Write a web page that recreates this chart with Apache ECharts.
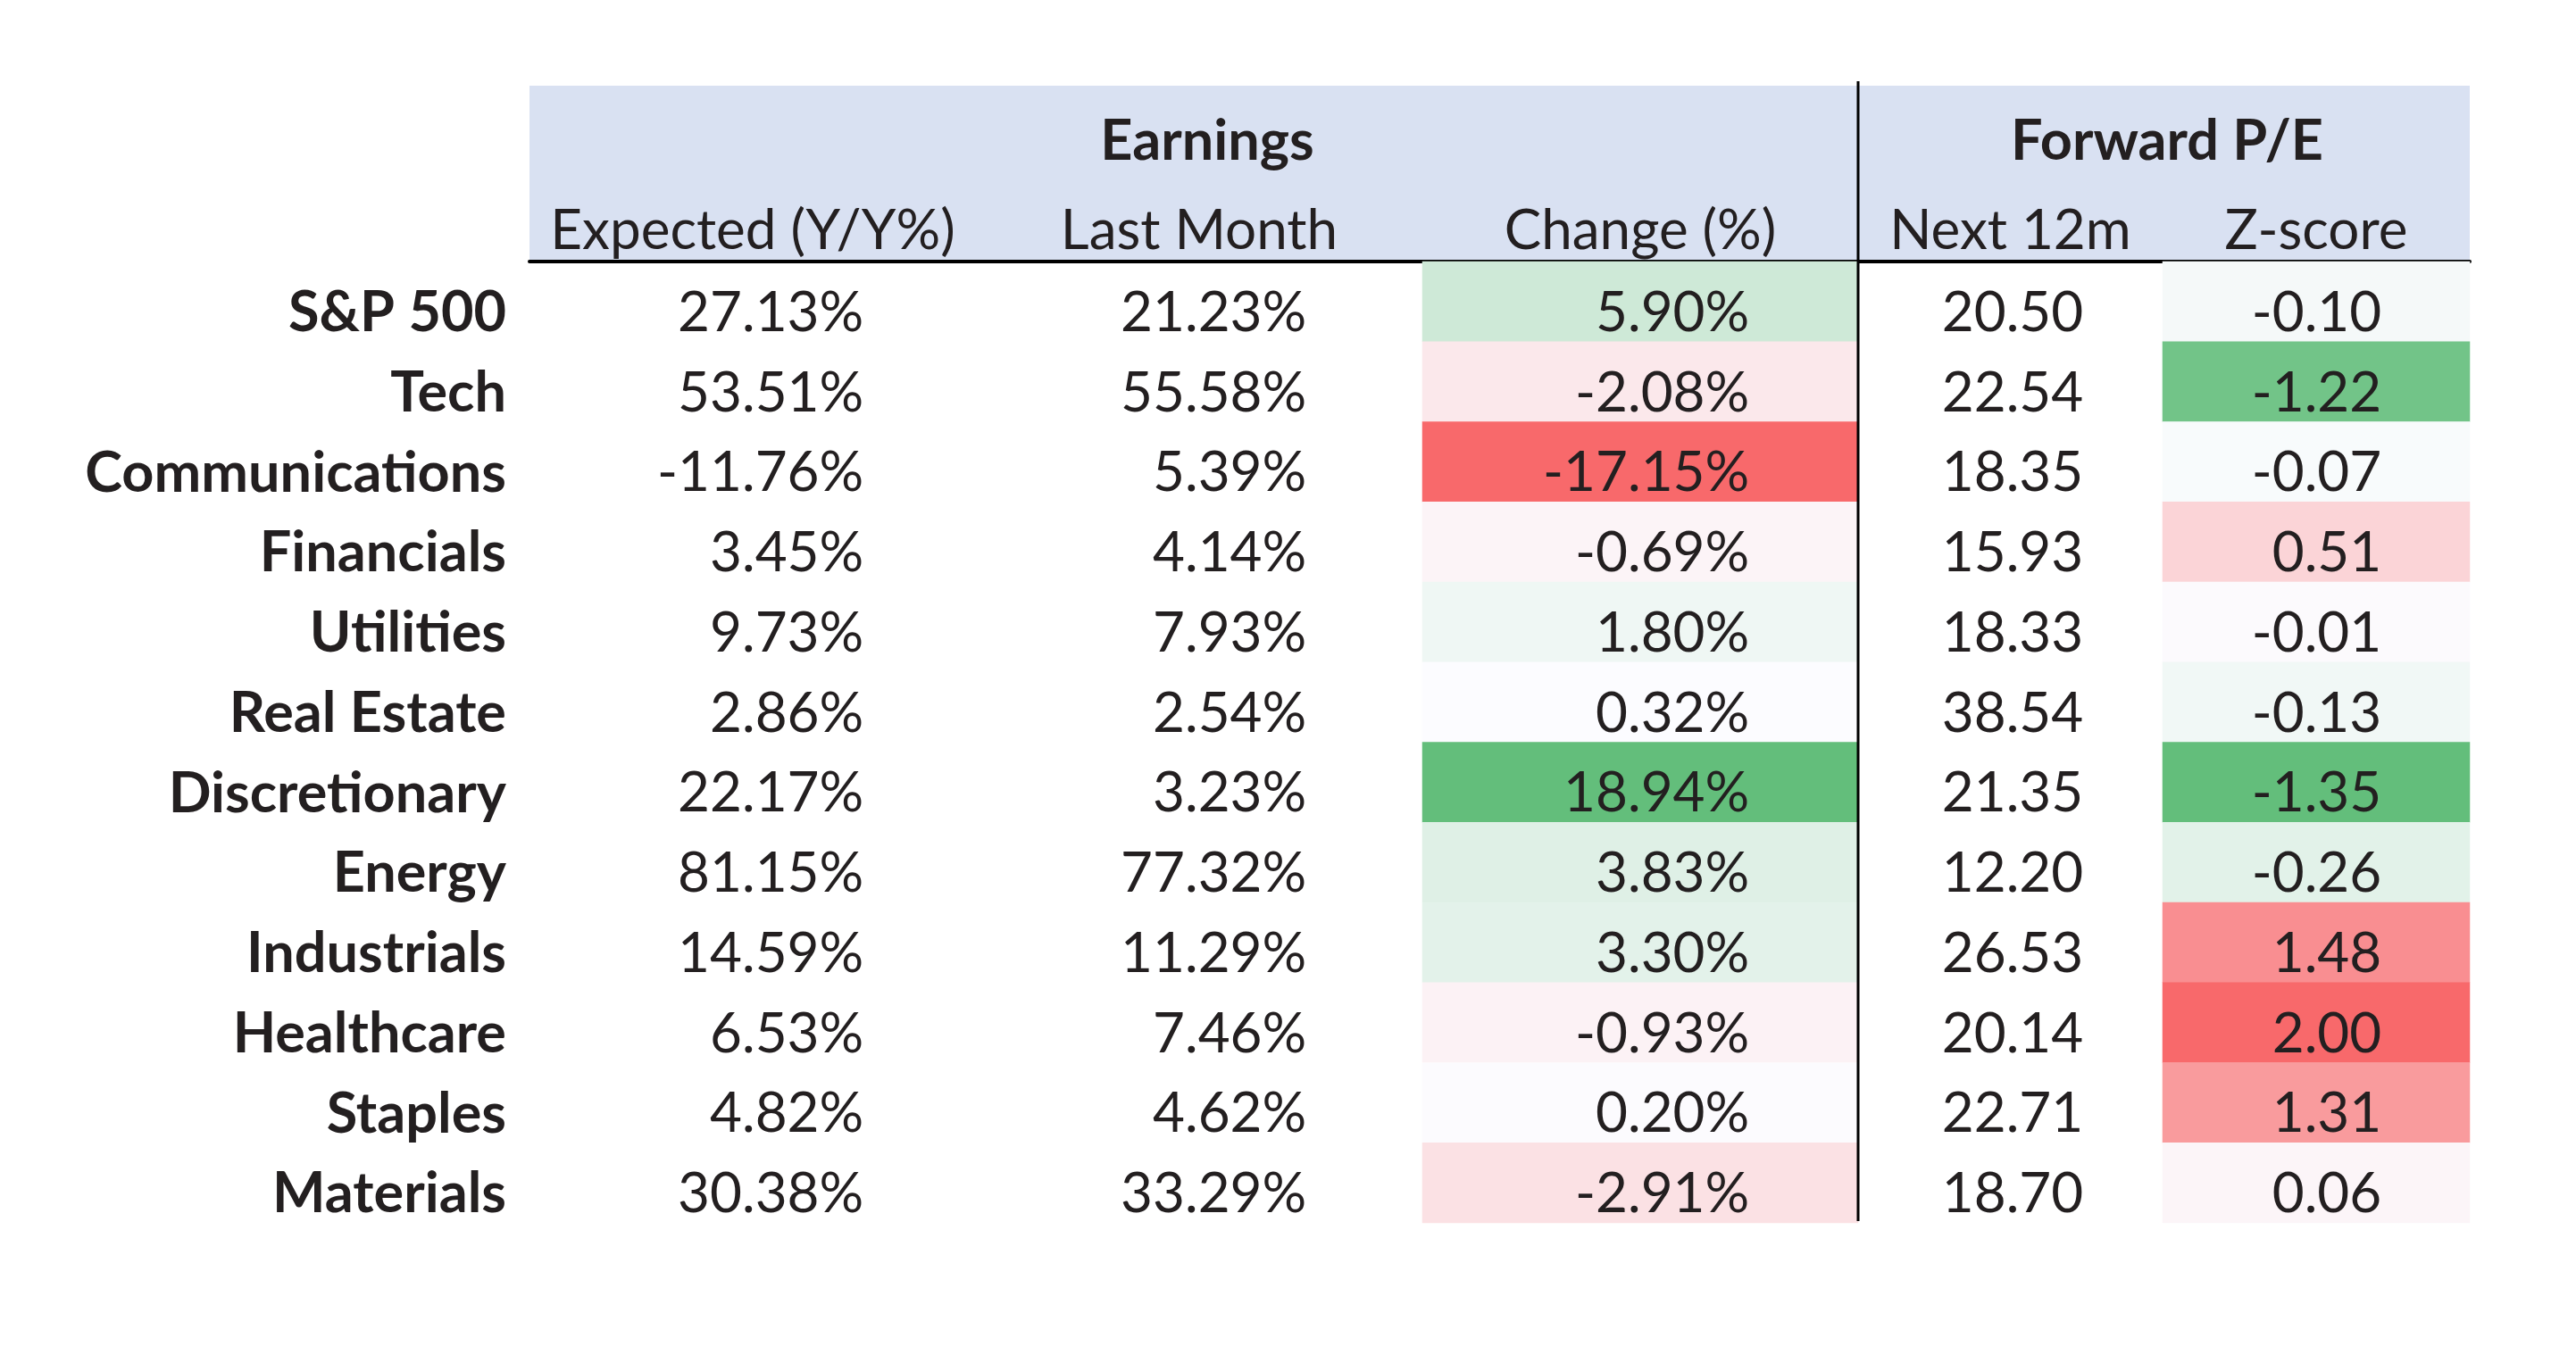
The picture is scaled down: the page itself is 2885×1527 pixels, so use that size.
<!DOCTYPE html>
<html>
<head>
<meta charset="utf-8">
<title>Earnings and Forward P/E by sector</title>
<script src="https://cdn.jsdelivr.net/npm/echarts@6/dist/echarts.min.js"></script>
<style>
	html, body { margin: 0; padding: 0; background: #ffffff; }
	#div_table { width: 2885px; height: 1527px; }
</style>
</head>
<body>
<div id="div_table"></div>
<script>
// rows
var sectors = ['S&P 500', 'Tech', 'Communications', 'Financials', 'Utilities', 'Real Estate',
	'Discretionary', 'Energy', 'Industrials', 'Healthcare', 'Staples', 'Materials'];

// Earnings
var expectedYoY = [27.13, 53.51, -11.76, 3.45, 9.73, 2.86, 22.17, 81.15, 14.59, 6.53, 4.82, 30.38];
var lastMonth   = [21.23, 55.58, 5.39, 4.14, 7.93, 2.54, 3.23, 77.32, 11.29, 7.46, 4.62, 33.29];
var changePct   = [5.90, -2.08, -17.15, -0.69, 1.80, 0.32, 18.94, 3.83, 3.30, -0.93, 0.20, -2.91];

// Forward P/E
var next12m = [20.50, 22.54, 18.35, 15.93, 18.33, 38.54, 21.35, 12.20, 26.53, 20.14, 22.71, 18.70];
var zScore  = [-0.10, -1.22, -0.07, 0.51, -0.01, -0.13, -1.35, -0.26, 1.48, 2.00, 1.31, 0.06];

// header texts
var groupNames = ['Earnings', 'Forward P/E'];
var columnNames = ['Expected (Y/Y%)', 'Last Month', 'Change (%)', 'Next 12m', 'Z-score'];

// layout (pixels)
var columnLeft  = [593, 1093, 1593, 2081, 2422];
var columnRight = [1093, 1593, 2081, 2422, 2766];
var labelPad    = [126, 130, 122, 89, 99];
var tableTop = 293, tableBottom = 1370;
var textDrop = 13; // cell text sits a little below the row centre

var GREEN = [99, 190, 123], WHITE = [252, 252, 255], RED = [248, 105, 107];
var TEXT = '#231f20';

// excel style 3 colour scale : min / 50th percentile / max
function colourScale(values, lowCol, highCol) {
	var s = values.slice().sort(function (a, b) { return a - b; });
	var n = s.length;
	var mid = n % 2 ? s[(n - 1) / 2] : (s[n / 2 - 1] + s[n / 2]) / 2;
	var min = s[0], max = s[n - 1];
	return function (v) {
		var to, t;
		if (v >= mid) { to = highCol; t = (v - mid) / (max - mid); }
		else { to = lowCol; t = (mid - v) / (mid - min); }
		var c = [0, 1, 2].map(function (k) { return Math.round(WHITE[k] + (to[k] - WHITE[k]) * t); });
		return 'rgb(' + c.join(',') + ')';
	};
}

var columns = [
	{ values: expectedYoY, pct: true, colour: null },
	{ values: lastMonth, pct: true, colour: null },
	{ values: changePct, pct: true, colour: colourScale(changePct, RED, GREEN) },
	{ values: next12m, pct: false, colour: null },
	{ values: zScore, pct: false, colour: colourScale(zScore, GREEN, RED) }
];

var grids = [], xAxes = [], yAxes = [], series = [];
columns.forEach(function (col, i) {
	grids.push({
		left: columnLeft[i],
		width: columnRight[i] - columnLeft[i],
		top: tableTop,
		bottom: 1527 - tableBottom
	});
	xAxes.push({
		gridIndex: i,
		type: 'category',
		position: 'top',
		data: [columnNames[i]],
		axisLine: { show: true, lineStyle: { color: '#000000', width: 4 } },
		axisTick: { show: false },
		splitLine: { show: false },
		axisLabel: { fontSize: 62, color: TEXT, margin: 3, fontFamily: 'Lato' }
	});
	yAxes.push({
		gridIndex: i,
		type: 'category',
		inverse: true,
		data: sectors,
		axisLine: { show: false },
		axisTick: { show: false },
		splitLine: { show: false },
		axisLabel: {
			show: i === 0,
			fontSize: 63,
			fontWeight: 'bold',
			color: TEXT,
			margin: 26,
			// top aligned with a short line box: glyphs centred textDrop below the row centre
			verticalAlign: 'top',
			lineHeight: textDrop * 2,
			fontFamily: 'Lato'
		}
	});
	var data = col.values.map(function (v, r) {
		return {
			value: [0, r, v],
			itemStyle: { color: col.colour ? col.colour(v) : 'rgba(255,255,255,0)' }
		};
	});
	series.push({
		type: 'heatmap',
		xAxisIndex: i,
		yAxisIndex: i,
		data: data,
		emphasis: { disabled: true },
		label: {
			show: true,
			position: 'insideRight',
			distance: labelPad[i],
			offset: [0, textDrop],
			fontSize: 62,
			color: TEXT,
			fontFamily: 'Lato',
			formatter: function (p) {
				return p.value[2].toFixed(2) + (col.pct ? '%' : '');
			}
		}
	});
});

var option = {
	backgroundColor: '#ffffff',
	animation: false,
	textStyle: { fontFamily: 'Lato' },
	grid: grids,
	xAxis: xAxes,
	yAxis: yAxes,
	series: series,
	graphic: [
		{ // header band
			type: 'rect', z: -1,
			shape: { x: columnLeft[0], y: 96, width: columnRight[4] - columnLeft[0], height: tableTop - 96 },
			style: { fill: '#D9E1F2' }
		},
		{
			type: 'text', z: 10, x: 1352, y: 159,
			style: { text: groupNames[0], font: 'bold 63px Lato', fill: TEXT, align: 'center', verticalAlign: 'middle' }
		},
		{
			type: 'text', z: 10, x: 2427, y: 159,
			style: { text: groupNames[1], font: 'bold 63px Lato', fill: TEXT, align: 'center', verticalAlign: 'middle' }
		},
		{ // divider between earnings and P/E
			type: 'line', z: 10,
			shape: { x1: columnLeft[3], y1: 91, x2: columnLeft[3], y2: tableBottom - 2 },
			style: { stroke: '#000000', lineWidth: 3 }
		}
	]
};

var myChart = echarts.init(document.getElementById('div_table'));
myChart.setOption(option);
</script>
</body>
</html>
